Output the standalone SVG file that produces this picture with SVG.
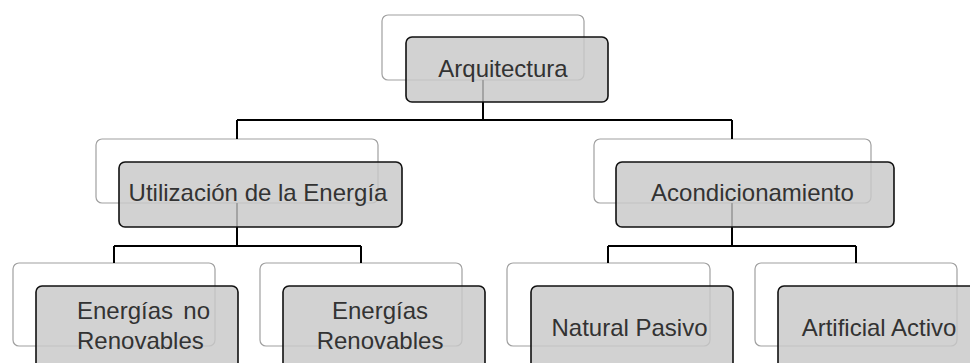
<svg xmlns="http://www.w3.org/2000/svg" width="970" height="363" viewBox="0 0 970 363">
<style>
.back{fill:#fff;stroke:#a0a0a0;stroke-width:1.2}
.front{fill:#c8c8c8;fill-opacity:0.82;stroke:#111;stroke-width:1.6}
.t{font-family:"Liberation Sans",Arial,sans-serif;font-size:24px;fill:#333}
.c{text-anchor:middle}
.conn{fill:none;stroke:#000;stroke-width:2}
</style>
<rect width="970" height="363" fill="#fff"/>
<g id="backs">
<rect class="back" x="382" y="15" width="202" height="65" rx="6"/>
<rect class="back" x="96" y="139" width="282" height="64" rx="6"/>
<rect class="back" x="594" y="139" width="277" height="64" rx="6"/>
<rect class="back" x="13" y="263" width="202" height="83" rx="6"/>
<rect class="back" x="260" y="263" width="202" height="83" rx="6"/>
<rect class="back" x="507" y="263" width="203" height="83" rx="6"/>
<rect class="back" x="755" y="263" width="202" height="83" rx="6"/>
</g>
<g id="connectors">
<path class="conn" d="M483 80V120M237 120H732M237 120V139M732 120V139"/>
<path class="conn" d="M237 203V246M114 246H361M114 246V263M361 246V263"/>
<path class="conn" d="M732 203V246M608 246H856M608 246V263M856 246V263"/>
</g>
<g id="arquitectura">
<rect class="front" x="406" y="37" width="202" height="65" rx="6"/>
<text class="t c" x="503" y="77">Arquitectura</text>
</g>
<g id="utilizacion">
<rect class="front" x="119" y="162" width="283" height="65" rx="6"/>
<text class="t c" x="258" y="201">Utilización de la Energía</text>
</g>
<g id="acondicionamiento">
<rect class="front" x="616" y="162" width="278" height="65" rx="6"/>
<text class="t c" x="752.5" y="201">Acondicionamiento</text>
</g>
<g id="no-renovables">
<rect class="front" x="36" y="286" width="202" height="83" rx="6"/>
<text class="t" y="319"><tspan x="77">Energías</tspan><tspan x="210" text-anchor="end">no</tspan></text>
<text class="t" x="77" y="349">Renovables</text>
</g>
<g id="renovables">
<rect class="front" x="283" y="286" width="202" height="83" rx="6"/>
<text class="t c" x="380" y="319">Energías</text>
<text class="t c" x="380" y="349">Renovables</text>
</g>
<g id="natural-pasivo">
<rect class="front" x="531" y="286" width="202" height="83" rx="6"/>
<text class="t c" x="629.5" y="336">Natural Pasivo</text>
</g>
<g id="artificial-activo">
<rect class="front" x="778" y="286" width="202" height="83" rx="6"/>
<text class="t c" x="879" y="336">Artificial Activo</text>
</g>
</svg>
